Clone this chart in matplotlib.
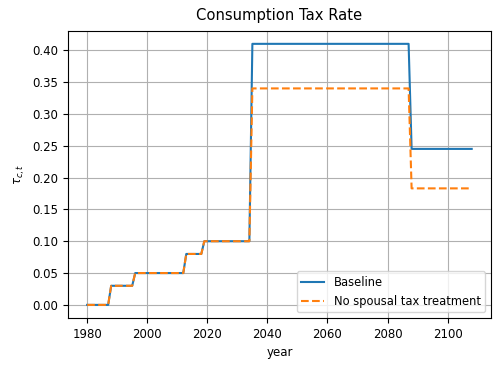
import numpy as np
import matplotlib.pyplot as plt

# data
years = np.arange(1980, 2109)
step_years = [1980, 1988, 1996, 2013, 2019, 2035, 2088]
baseline_rates = [0.0, 0.03, 0.05, 0.08, 0.10, 0.41, 0.245]
nospousal_rates = [0.0, 0.03, 0.05, 0.08, 0.10, 0.34, 0.183]


def expand(starts, vals):
    out = np.zeros(len(years))
    for s, v in zip(starts, vals):
        out[years >= s] = v
    return out


baseline = expand(step_years, baseline_rates)
nospousal = expand(step_years, nospousal_rates)

fig = plt.figure(figsize=(5.03, 3.71), dpi=100)
ax = fig.add_axes([0.135, 0.143, 0.841, 0.774])
ax.plot(years, baseline, label='Baseline', color='tab:blue')
ax.plot(years, nospousal, '--', label='No spousal tax treatment', color='tab:orange')

ax.set_title('Consumption Tax Rate', fontsize=10.6, pad=8)
ax.set_xlabel('year', fontsize=8.5)
ax.set_ylabel(r'$\tau_{c,t}$', fontsize=8.5)
ax.tick_params(labelsize=8.5)
ax.set_yticks(np.arange(0, 0.41, 0.05))
ax.grid(True)
ax.legend(loc='lower right', fontsize=8.3)

plt.savefig('out.png')
